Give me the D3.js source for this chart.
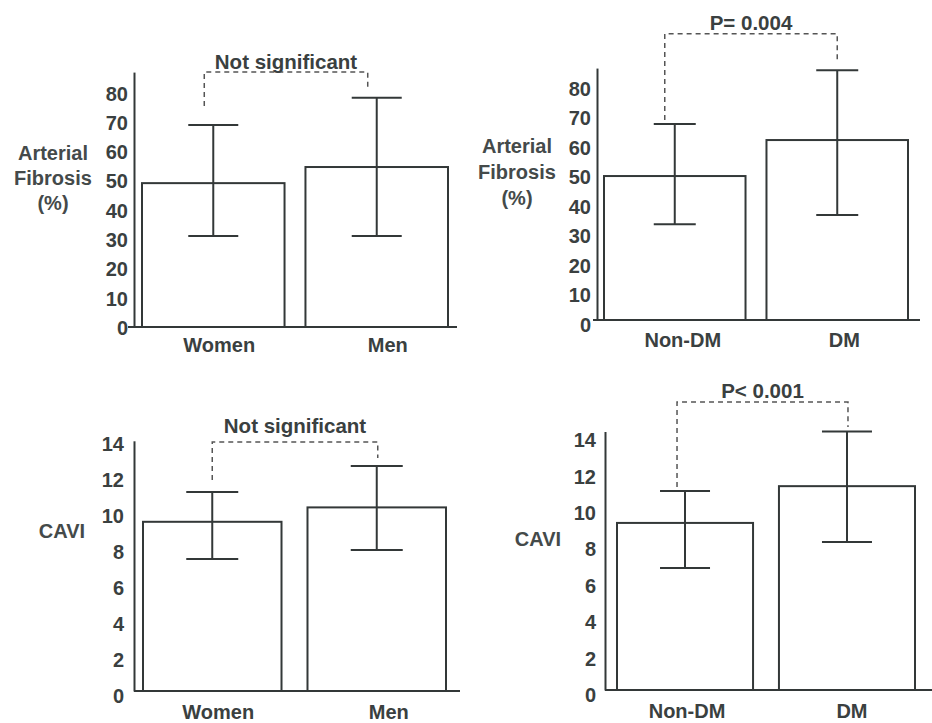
<!DOCTYPE html>
<html>
<head>
<meta charset="utf-8">
<script src="https://cdn.jsdelivr.net/npm/d3@7"></script>
<style>
  html, body { margin: 0; padding: 0; background: #fff; }
  svg { display: block; }
  text { font-family: "Liberation Sans", Arial, sans-serif; font-weight: bold; }
</style>
</head>
<body>
<svg id="chart" width="932" height="723"></svg>
<script>
// ---------- data ----------
const sexCategories = ["Women", "Men"];
const dmCategories = ["Non-DM", "DM"];

const fibrosisTicks = [0, 10, 20, 30, 40, 50, 60, 70, 80];
const caviTicks = [0, 2, 4, 6, 8, 10, 12, 14];

// Arterial fibrosis (%) by sex: mean, upper and lower error bar ends
const fibrosisSexMean  = [49.1, 54.6];
const fibrosisSexUpper = [68.9, 78.2];
const fibrosisSexLower = [31.1, 31.1];

// Arterial fibrosis (%) by diabetes
const fibrosisDmMean  = [48.8, 61.0];
const fibrosisDmUpper = [66.4, 84.7];
const fibrosisDmLower = [32.5, 35.6];

// CAVI by sex
const caviSexMean  = [9.4, 10.2];
const caviSexUpper = [11.05, 12.5];
const caviSexLower = [7.33, 7.83];

// CAVI by diabetes
const caviDmMean  = [9.18, 11.2];
const caviDmUpper = [10.93, 14.2];
const caviDmLower = [6.7, 8.13];

const significanceLabels = ["Not significant", "P= 0.004", "Not significant", "P< 0.001"];
const fibrosisAxisLabel = ["Arterial", "Fibrosis", "(%)"];
const caviAxisLabel = ["CAVI"];

// ---------- layout ----------
const ink = "#333838";
const textInk = "#3a4040";
const fontSize = 20;
const svg = d3.select("#chart");
svg.append("rect").attr("width", 932).attr("height", 723).attr("fill", "#fff");

const panels = [
  { cats: sexCategories, mean: fibrosisSexMean, up: fibrosisSexUpper, lo: fibrosisSexLower,
    ticks: fibrosisTicks, axisTop: 87, yPix: [327, 327 - 87 * 2.93], axisX: 134,
    barRange: [142, 448], padInner: 0.128, xLineEnd: 457, xLineStart: 128,
    tickPad: 6, tickShift: 1, capHalf: 25,
    yLabel: fibrosisAxisLabel, yLabelX: 53, yLabelY: 153, yLabelStep: 25,
    xLabelPad: 11, xLabelDx: [6, 11],
    sig: significanceLabels[0], br: { top: 87, left: 75.4, right: 81.6, dxL: -9, dxR: -9 }, sigGap: 10 },
  { cats: dmCategories, mean: fibrosisDmMean, up: fibrosisDmUpper, lo: fibrosisDmLower,
    ticks: fibrosisTicks, axisTop: 85.4, yPix: [320, 320 - 85.4 * 2.95], axisX: 597,
    barRange: [604, 908], padInner: 0.129, xLineEnd: 920, xLineStart: 593,
    tickPad: 6, tickShift: 5, capHalf: 21,
    yLabel: fibrosisAxisLabel, yLabelX: 517, yLabelY: 146, yLabelStep: 26,
    xLabelPad: 13, xLabelDx: [8, 7],
    sig: significanceLabels[1], br: { top: 97, left: 67.8, right: 88.1, dxL: -10, dxR: 0 }, sigGap: 11 },
  { cats: sexCategories, mean: caviSexMean, up: caviSexUpper, lo: caviSexLower,
    ticks: caviTicks, axisTop: 13.9, yPix: [691, 691 - 13.9 * 18], axisX: 134,
    barRange: [143, 446], padInner: 0.158, xLineEnd: 460, xLineStart: 134,
    tickPad: 10, tickShift: 5, capHalf: 26,
    yLabel: caviAxisLabel, yLabelX: 62, yLabelY: 531, yLabelStep: 25,
    xLabelPad: 14, xLabelDx: [6, 12],
    sig: significanceLabels[2], br: { top: 13.83, left: 11.72, right: 12.94, dxL: 0, dxR: 1 }, sigGap: 16 },
  { cats: dmCategories, mean: caviDmMean, up: caviDmUpper, lo: caviDmLower,
    ticks: caviTicks, axisTop: 14.2, yPix: [690, 690 - 14.2 * 18.2], axisX: 605,
    barRange: [617, 915], padInner: 0.16, xLineEnd: 932, xLineStart: 605,
    tickPad: 9, tickShift: 5, capHalf: 25,
    yLabel: caviAxisLabel, yLabelX: 538, yLabelY: 539, yLabelStep: 25,
    xLabelPad: 14, xLabelDx: [2, 5],
    sig: significanceLabels[3], br: { top: 15.82, left: 11.15, right: 14.45, dxL: -8, dxR: 1 }, sigGap: 11 }
];

panels.forEach(p => {
  const g = svg.append("g");
  const y = d3.scaleLinear().domain([0, p.axisTop]).range(p.yPix);
  const x = d3.scaleBand().domain(p.cats).range(p.barRange).paddingInner(p.padInner).paddingOuter(0);
  const rows = p.cats.map((c, i) => ({ c, m: p.mean[i], u: p.up[i], l: p.lo[i], i }));

  // bars
  g.selectAll("rect.bar").data(rows).join("rect")
    .attr("class", "bar")
    .attr("x", d => x(d.c))
    .attr("y", d => y(d.m))
    .attr("width", x.bandwidth())
    .attr("height", d => y(0) - y(d.m))
    .attr("fill", "#fff")
    .attr("stroke", ink)
    .attr("stroke-width", 2);

  // error bars
  const cx = d => x(d.c) + x.bandwidth() / 2;
  g.selectAll("line.err").data(rows).join("line")
    .attr("x1", cx).attr("x2", cx)
    .attr("y1", d => y(d.u)).attr("y2", d => y(d.l))
    .attr("stroke", ink).attr("stroke-width", 2);
  ["u", "l"].forEach(k => {
    g.selectAll("line.cap" + k).data(rows).join("line")
      .attr("x1", d => cx(d) - p.capHalf).attr("x2", d => cx(d) + p.capHalf)
      .attr("y1", d => y(d[k])).attr("y2", d => y(d[k]))
      .attr("stroke", ink).attr("stroke-width", 2);
  });

  // y axis
  const ya = g.append("g").attr("transform", `translate(${p.axisX},0)`)
    .call(d3.axisLeft(y).tickValues(p.ticks).tickSize(0).tickSizeOuter(0).tickPadding(p.tickPad));
  ya.select(".domain").attr("stroke", ink).attr("stroke-width", 2);
  ya.selectAll("text")
    .attr("transform", `translate(0,${p.tickShift})`)
    .attr("font-size", fontSize).attr("font-family", "Liberation Sans, Arial, sans-serif")
    .attr("font-weight", "bold").attr("fill", textInk);

  // x axis line
  g.append("line")
    .attr("x1", p.xLineStart).attr("x2", p.xLineEnd)
    .attr("y1", y(0)).attr("y2", y(0))
    .attr("stroke", ink).attr("stroke-width", 2);

  // x category labels
  const xa = g.append("g").attr("transform", `translate(0,${y(0)})`)
    .call(d3.axisBottom(x).tickSize(0).tickPadding(p.xLabelPad));
  xa.select(".domain").remove();
  xa.selectAll("text")
    .attr("dx", (d, i) => p.xLabelDx[i])
    .attr("font-size", fontSize).attr("font-family", "Liberation Sans, Arial, sans-serif")
    .attr("font-weight", "bold").attr("fill", textInk);

  // y axis title
  g.append("g").selectAll("text").data(p.yLabel).join("text")
    .attr("x", p.yLabelX)
    .attr("y", (d, i) => p.yLabelY + i * p.yLabelStep)
    .attr("dy", "0.35em")
    .attr("text-anchor", "middle")
    .attr("font-size", fontSize)
    .attr("fill", "#444a4a")
    .text(d => d);

  // significance bracket
  const xL = cx(rows[0]) + p.br.dxL;
  const xR = cx(rows[1]) + p.br.dxR;
  g.append("path")
    .attr("d", `M${xL},${y(p.br.left)}V${y(p.br.top)}H${xR}V${y(p.br.right)}`)
    .attr("fill", "none")
    .attr("stroke", "#555")
    .attr("stroke-width", 1.5)
    .attr("stroke-dasharray", "5,4");
  g.append("text")
    .attr("x", (xL + xR) / 2)
    .attr("y", y(p.br.top) - p.sigGap)
    .attr("dy", "0.35em")
    .attr("text-anchor", "middle")
    .attr("font-size", 20.5)
    .attr("fill", textInk)
    .text(p.sig);
});
</script>
</body>
</html>
